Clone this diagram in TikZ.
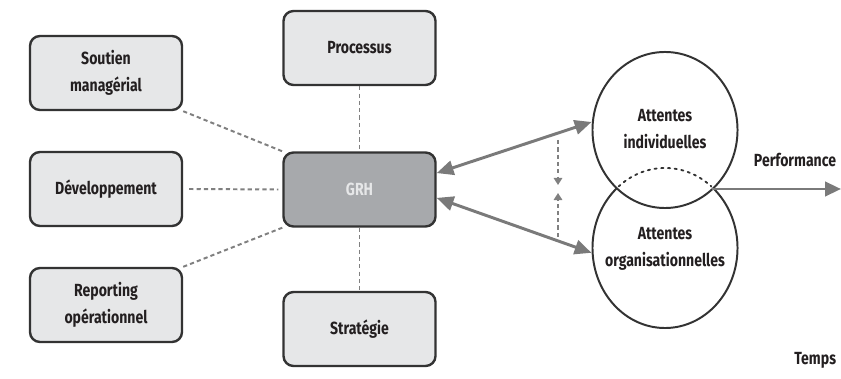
\documentclass[tikz,border=0pt]{standalone}
\usepackage{fontspec}
\setmainfont{Fira Sans}[FakeStretch=0.8]
\usetikzlibrary{arrows.meta,shapes.geometric}
\definecolor{boxfill}{HTML}{E6E7E8}
\definecolor{hubfill}{HTML}{A7A9AC}
\definecolor{edge}{HTML}{333333}
\definecolor{linkgray}{HTML}{808080}
\definecolor{flowgray}{HTML}{7A7A7A}
\definecolor{ink}{HTML}{231F20}
\tikzset{bigtip/.tip={Triangle[length=0.42cm,width=0.36cm]}}
\begin{document}
\begin{tikzpicture}[x=0.025cm,y=-0.025cm,
  lbl/.style={font=\bfseries\fontsize{12.5}{19.5}\selectfont, text=ink, align=center},
  card/.style={lbl, draw=edge, line width=1.7pt, fill=boxfill, rounded corners=0.25cm,
    minimum width=3.8cm, minimum height=1.85cm, inner sep=0pt},
  hub/.style={card, fill=hubfill, text=boxfill},
  link/.style={draw=linkgray, line width=1.4pt, dash pattern=on 3pt off 2.2pt},
  flowarrow/.style={draw=flowgray, line width=2.1pt},
  bubble/.style={lbl, ellipse, draw=edge, line width=1.4pt, fill=white, inner sep=0pt,
    minimum width=3.625cm}
]
\useasboundingbox (0,0) rectangle (841,379);

% side boxes
\node[card] (sm)  at (106,73)  {Soutien\\managérial};
\node[card] (dev) at (106,189) {Développement};
\node[card] (rep) at (106,305) {Reporting\\opérationnel};

% central column
\node[card] (proc)  at (359.5,48)    {Processus};
\node[hub]  (grh)   at (359.5,189.5) {GRH};
\node[card] (strat) at (359.5,329)   {Stratégie};

% dashed links to the hub
\draw[link] (sm.south east) -- (grh.north west);
\draw[link] ([xshift=0.15cm]dev.east) -- ([xshift=-0.1cm]grh.west);
\draw[link] (rep.north east) -- (grh.south west);
\draw[link] (proc.south) -- (grh.north);
\draw[link] (grh.south) -- (strat.north);

% overlapping expectations
\node[bubble, minimum height=4.0cm] (org) at (665,248) {};
\node[bubble, minimum height=3.9cm] (ind) at (665,130) {};
\begin{scope}
  \clip (ind.center) ellipse [x radius=1.76cm, y radius=1.9cm];
  \draw[edge, line width=1.3pt, dash pattern=on 1.6pt off 3.2pt, line cap=round]
    (org.center) ellipse [x radius=1.8125cm, y radius=2cm];
\end{scope}
\node[lbl] at (665,129) {Attentes\\individuelles};
\node[lbl] at (665,249) {Attentes\\organisationnelles};

% two-way flows between the hub and the expectations
\draw[flowarrow, bigtip-bigtip] ([yshift=0.41cm]grh.east) -- ([yshift=0.2cm]ind.west);
\draw[flowarrow, bigtip-bigtip] ([yshift=-0.21cm]grh.east) -- ([yshift=-0.12cm]org.west);

% dotted tie between the two flows
\coordinate (vt) at (558,140);
\coordinate (vb) at (558,237);
\coordinate (vm1) at (558,185);
\coordinate (vm2) at (558,193);
\draw[link, -{Triangle[length=5pt,width=6pt]}] (vt) -- (vm1);
\draw[link, -{Triangle[length=5pt,width=6pt]}] (vb) -- (vm2);

% output
\coordinate (meet) at (712,189);
\coordinate (perfend) at (841,189);
\draw[flowarrow, -{Triangle[length=0.4cm,width=0.36cm]}] (meet) -- (perfend);
\node[lbl, anchor=east] (perf) at (841,160) {Performance};
\node[lbl, anchor=east] (temps) at (841,360) {Temps};
\end{tikzpicture}
\end{document}
